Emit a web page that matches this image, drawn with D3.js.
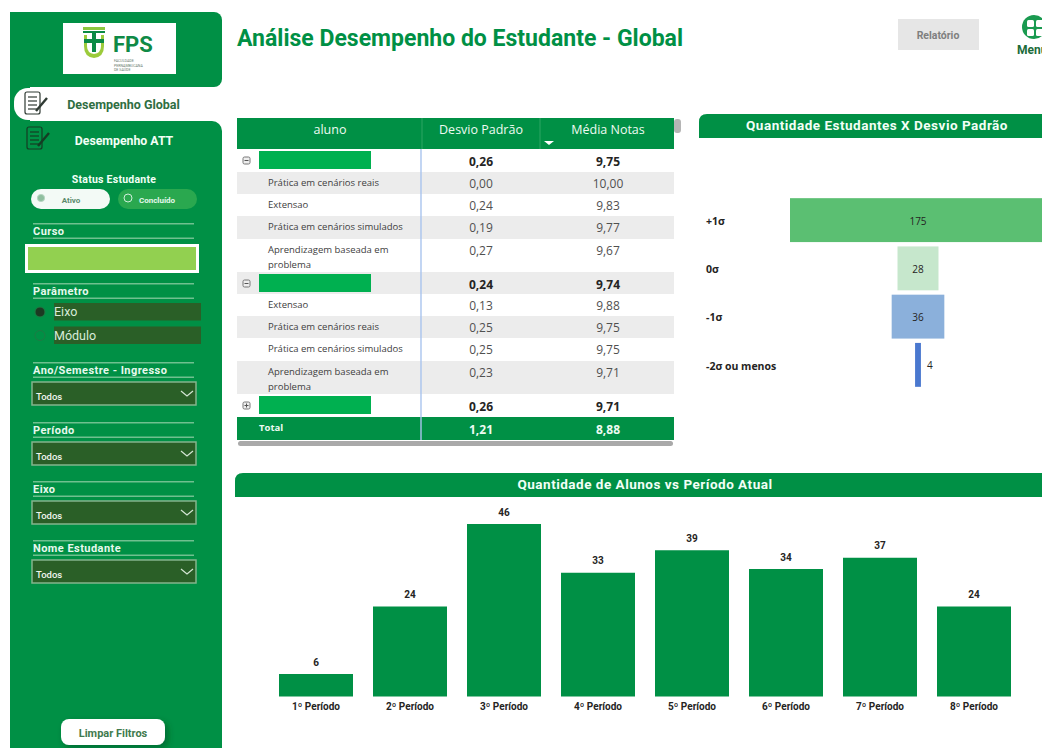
<!DOCTYPE html>
<html>
<head>
<meta charset="utf-8">
<script src="https://cdn.jsdelivr.net/npm/d3@7"></script>
<style>
  html, body { margin: 0; padding: 0; background: #fff; overflow: hidden; }
  svg { display: block; }
</style>
</head>
<body>
<script>
// constants
const WIDTH = 1042;
const HEIGHT = 748;
const GREEN = "#009045";
const DARK = "#2a5f27";
const LINE = "#6fc08f";
const DIN = "Roboto, 'Noto Sans', sans-serif";
const UI = "'Open Sans', 'Noto Sans', sans-serif";

// period bars
const periodos = ["1º Período", "2º Período", "3º Período", "4º Período", "5º Período", "6º Período", "7º Período", "8º Período"];
const alunos = [6, 24, 46, 33, 39, 34, 37, 24];

// funnel
const sigmaLabels = ["+1σ", "0σ", "-1σ", "-2σ ou menos"];
const sigmaValues = [175, 28, 36, 4];
const sigmaColors = ["#5bbf72", "#c6e7cc", "#8bb0db", "#4a78cf"];

// table
const tableHeaders = ["aluno", "Desvio Padrão", "Média Notas"];
const rowLabels = [null, "Prática em cenários reais", "Extensao", "Prática em cenários simulados", "Aprendizagem baseada em|problema",
                   null, "Extensao", "Prática em cenários reais", "Prática em cenários simulados", "Aprendizagem baseada em|problema",
                   null];
const rowDesvio = ["0,26", "0,00", "0,24", "0,19", "0,27", "0,24", "0,13", "0,25", "0,25", "0,23", "0,26"];
const rowMedia = ["9,75", "10,00", "9,83", "9,77", "9,67", "9,74", "9,88", "9,75", "9,75", "9,71", "9,71"];
const rowShaded = [false, true, false, true, false, true, false, true, false, true, false];
const rowExpanded = [true, false, false, false, false, true, false, false, false, false, false];
const totalRow = ["Total", "1,21", "8,88"];
const rowEdges = [149, 172, 194, 216, 239, 272, 294, 316, 338, 361, 394, 417];

// sidebar dropdowns
const slicerTitles = ["Ano/Semestre - Ingresso", "Período", "Eixo", "Nome Estudante"];
const slicerTops = [362, 422, 481, 540];
const paramOptions = ["Eixo", "Módulo"];

var svg = d3.select("body").append("svg")
    .attr("width", WIDTH)
    .attr("height", HEIGHT);

function txt(parent, x, y, s, size, fill, weight, anchor, family) {
    return parent.append("text")
        .attr("x", x)
        .attr("y", y)
        .attr("dy", "0.35em")
        .attr("text-anchor", anchor || "start")
        .attr("font-family", family || DIN)
        .attr("font-size", size + "px")
        .attr("font-weight", weight || 400)
        .attr("fill", fill)
        .text(s);
}

function box(parent, x, y, w, h, fill, r) {
    return parent.append("rect")
        .attr("x", x)
        .attr("y", y)
        .attr("width", w)
        .attr("height", h)
        .attr("rx", r || 0)
        .attr("fill", fill);
}

var defs = svg.append("defs");
var shadow = defs.append("filter").attr("id", "soft").attr("x", "-20%").attr("y", "-30%").attr("width", "150%").attr("height", "170%");
shadow.append("feDropShadow").attr("dx", 3).attr("dy", 3).attr("stdDeviation", 3).attr("flood-color", "#00401e").attr("flood-opacity", 0.45);

// sidebar background
var side = svg.append("g");
box(side, 10, 12, 212, 75, GREEN, 8);
box(side, 10, 121, 212, 640, GREEN, 10);
box(side, 10, 12, 20, 736, GREEN);
box(side, 14, 88, 226, 32, "#fff", 14);

// logo
box(side, 63, 23, 113, 51, "#fff");
box(side, 83, 27, 22, 3, "#8cc63f");
box(side, 83, 31, 22, 2, "#0b8a45");
side.append("path")
    .attr("d", "M84 35H104V46Q104 57 94 58Q84 57 84 46Z")
    .attr("fill", "#9ccb3b");
side.append("path")
    .attr("d", "M87 35H101V46Q101 53 94 54Q87 53 87 46Z")
    .attr("fill", "#fff");
box(side, 92, 33, 4, 19, "#0b8a45");
box(side, 84, 39, 20, 4, "#0b8a45");
txt(side, 113, 44, "FPS", 22, "#0f8a46", 700);
["FACULDADE", "PERNAMBUCANA", "DE SAÚDE"].forEach(function (s, i) {
    txt(side, 114, 61 + i * 4.4, s, 3.6, "#6b7d70", 400);
});

// tab icons
function docIcon(x, y, stroke) {
    var g = side.append("g").attr("fill", "none").attr("stroke", stroke).attr("stroke-width", 1.2);
    g.append("rect").attr("x", x).attr("y", y).attr("width", 15).attr("height", 22).attr("rx", 2);
    [5, 9, 13, 17].forEach(function (d) {
        g.append("line").attr("x1", x + 3).attr("x2", x + 12).attr("y1", y + d).attr("y2", y + d);
    });
    g.append("line").attr("x1", x + 11).attr("y1", y + 19).attr("x2", x + 22).attr("y2", y + 6).attr("stroke-width", 2.4);
}
docIcon(25, 92, "#2f3a33");
docIcon(27, 127, "#143d24");

txt(side, 123.5, 105, "Desempenho Global", 12.5, "#2f6e42", 700, "middle");
txt(side, 124, 141, "Desempenho ATT", 12.3, "#f2fff6", 700, "middle");

// status toggle
txt(side, 114, 179, "Status Estudante", 10.5, "#f2fff6", 700, "middle").attr("letter-spacing", "0.25px");
box(side, 31, 189, 79, 20, "#f3faf6", 10);
box(side, 118, 189, 79, 20, "#2aa84f", 10);
side.append("circle").attr("cx", 41).attr("cy", 198).attr("r", 3.6).attr("fill", "#8fbf9f").attr("stroke", "#b7d6c2");
side.append("circle").attr("cx", 128).attr("cy", 198).attr("r", 4).attr("fill", "none").attr("stroke", "#cfeeda");
txt(side, 71, 200, "Ativo", 8, "#5c8a6c", 700, "middle");
txt(side, 157, 200, "Concluído", 8, "#e6f8ec", 700, "middle");

function slicerTitle(y, s) {
    box(side, 33, y, 161, 1.5, LINE);
    box(side, 33, y + 14.5, 161, 1.5, LINE);
    txt(side, 33, y + 8, s, 11, "#e8f8ee", 700).attr("letter-spacing", "0.45px");
}

// curso
slicerTitle(223, "Curso");
box(side, 25, 244, 174, 29, "#fff");
box(side, 28, 247, 168, 23, "#92d050");

// parametro
slicerTitle(283, "Parâmetro");
paramOptions.forEach(function (s, i) {
    var y = 303 + i * 23.5;
    box(side, 54, y, 147, 17.5, DARK);
    txt(side, 54, y + 9, s, 12.5, "#d8ecd9", 400);
    side.append("circle").attr("cx", 40).attr("cy", y + 9).attr("r", 5)
        .attr("fill", i === 0 ? "#1c3a22" : "none")
        .attr("stroke", "#1f7a44");
});

// dropdowns
slicerTitles.forEach(function (s, i) {
    var y = slicerTops[i];
    slicerTitle(y, s);
    box(side, 32, y + 20, 164, 23, DARK).attr("stroke", "#84b48d").attr("stroke-width", 1.5);
    txt(side, 36, y + 35, "Todos", 9.5, "#f0f6ee", 500);
    side.append("path")
        .attr("d", "M181 " + (y + 29) + "l6 5l6 -5")
        .attr("fill", "none")
        .attr("stroke", "#d4e6d4")
        .attr("stroke-width", 1.2);
});

// clear button
box(side, 61, 719, 104, 26, "#fff", 8).attr("filter", "url(#soft)");
txt(side, 113, 733, "Limpar Filtros", 11, "#3f7a4e", 700, "middle");

// page header
txt(svg, 237, 38, "Análise Desempenho do Estudante - Global", 23, GREEN, 700)
    .attr("textLength", 446).attr("lengthAdjust", "spacingAndGlyphs");
box(svg, 898, 19, 81, 31, "#e6e6e6");
txt(svg, 938, 35, "Relatório", 10.5, "#7f7f7f", 700, "middle");
svg.append("circle").attr("cx", 1034).attr("cy", 27).attr("r", 12).attr("fill", "#1a9a50");
[[1027, 20], [1036, 20], [1027, 29], [1036, 29]].forEach(function (p) {
    box(svg, p[0], p[1], 7, 7, "#fff", 1.5);
});
txt(svg, 1017, 50, "Menu", 12, "#1b6b3a", 700);

// table
var table = svg.append("g");
var colCenter = [330, 481, 608];
box(table, 237, 118, 437, 31, GREEN);
tableHeaders.forEach(function (s, i) {
    txt(table, colCenter[i], 130, s, 12.5, "#eefbf2", 400, "middle", UI);
});
[422, 540].forEach(function (x) {
    table.append("line").attr("x1", x).attr("x2", x).attr("y1", 118).attr("y2", 149).attr("stroke", "#2ca565");
});
table.append("path").attr("d", "M544 141h10l-5 4z").attr("fill", "#fff");
box(table, 674, 119, 7, 14, "#b5b5b5", 3);

rowLabels.forEach(function (label, i) {
    var top = rowEdges[i], h = rowEdges[i + 1] - top;
    var isGroup = label === null;
    if (rowShaded[i]) box(table, 237, top, 437, h, "#ececec");
    if (isGroup) {
        box(table, 259, top + 2, 112, 18, "#00b050");
        table.append("rect").attr("x", 243).attr("y", top + 8).attr("width", 7).attr("height", 7).attr("rx", 1.5)
            .attr("fill", "#eee").attr("stroke", "#777");
        table.append("line").attr("x1", 244.5).attr("x2", 248.5).attr("y1", top + 11.5).attr("y2", top + 11.5).attr("stroke", "#555");
        if (!rowExpanded[i]) {
            table.append("line").attr("x1", 246.5).attr("x2", 246.5).attr("y1", top + 9.5).attr("y2", top + 13.5).attr("stroke", "#555");
        }
    } else {
        label.split("|").forEach(function (s, k) {
            txt(table, 268, top + 11 + k * 15, s, 9.5, "#404040", 400, "start", UI);
        });
    }
    var cy = top + (isGroup ? 12.5 : 12);
    txt(table, 481, cy, rowDesvio[i], 12, isGroup ? "#252423" : "#505050", isGroup ? 700 : 400, "middle", UI);
    txt(table, 608, cy, rowMedia[i], 12, isGroup ? "#252423" : "#505050", isGroup ? 700 : 400, "middle", UI);
});

box(table, 237, 417, 437, 23, GREEN);
txt(table, 259, 428, totalRow[0], 9.5, "#eefbf2", 700, "start", UI);
txt(table, 481, 430, totalRow[1], 12, "#eefbf2", 700, "middle", UI);
txt(table, 608, 430, totalRow[2], 12, "#eefbf2", 700, "middle", UI);
table.append("line").attr("x1", 421).attr("x2", 421).attr("y1", 149).attr("y2", 440).attr("stroke", "#a9c4ee").attr("stroke-width", 1.4);
box(table, 238, 441, 435, 5, "#a9a9a9", 2.5);

// section headers
function sectionHeader(x, y, s, cx) {
    svg.append("path")
        .attr("d", "M" + x + " " + (y + 24) + "V" + (y + 8) + "Q" + x + " " + y + " " + (x + 8) + " " + y + "H" + WIDTH + "V" + (y + 24) + "Z")
        .attr("fill", GREEN);
    txt(svg, cx, y + 11.5, s, 13.5, "#f2fff6", 700, "middle").attr("letter-spacing", "0.5px");
}
sectionHeader(699, 114, "Quantidade Estudantes X Desvio Padrão", 877);
sectionHeader(235, 473, "Quantidade de Alunos vs Período Atual", 645);

// funnel chart
var funnelX = d3.scaleLinear().domain([0, 175]).range([0, 256]);
var funnelY = d3.scaleBand().domain(sigmaLabels).range([196, 389]).paddingInner(0.09).paddingOuter(0.045);
var FUNNEL_CENTER = 918;
var funnel = svg.append("g");

funnel.selectAll("rect")
    .data(sigmaValues)
    .enter()
    .append("rect")
    .attr("x", function (d) { return FUNNEL_CENTER - funnelX(d) / 2; })
    .attr("y", function (d, i) { return funnelY(sigmaLabels[i]); })
    .attr("width", function (d) { return funnelX(d); })
    .attr("height", funnelY.bandwidth())
    .attr("fill", function (d, i) { return sigmaColors[i]; });

sigmaValues.forEach(function (d, i) {
    var cy = funnelY(sigmaLabels[i]) + funnelY.bandwidth() / 2 + 1;
    txt(funnel, 706, cy, sigmaLabels[i], 10.5, "#252423", 700, "start", UI);
    // last bar is too thin to hold its label
    var lx = funnelX(d) < 20 ? FUNNEL_CENTER + funnelX(d) / 2 + 9 : FUNNEL_CENTER;
    txt(funnel, lx, cy, d, 10, "#252423", 400, "middle", UI);
});

// period bar chart
var barX = d3.scaleBand().domain(periodos).range([269, 1021]).paddingInner(0.2128).paddingOuter(0.1064);
var barY = d3.scaleLinear().domain([0, 46]).range([696.5, 524]);
var bars = svg.append("g");

bars.selectAll("rect")
    .data(alunos)
    .enter()
    .append("rect")
    .attr("x", function (d, i) { return barX(periodos[i]); })
    .attr("y", function (d) { return barY(d); })
    .attr("width", barX.bandwidth())
    .attr("height", function (d) { return barY(0) - barY(d); })
    .attr("fill", GREEN);

bars.selectAll(".bar_label")
    .data(alunos)
    .enter()
    .append("text")
    .attr("class", "bar_label")
    .attr("x", function (d, i) { return barX(periodos[i]) + barX.bandwidth() / 2; })
    .attr("y", function (d) { return barY(d) - 12; })
    .attr("dy", "0.35em")
    .attr("text-anchor", "middle")
    .attr("font-family", DIN)
    .attr("font-size", "10px")
    .attr("font-weight", 700)
    .attr("fill", "#252423")
    .text(function (d) { return d; });

var xAxis = d3.axisBottom(barX).tickSize(0).tickPadding(6);
var xG = svg.append("g")
    .attr("transform", "translate(0,696.5)")
    .call(xAxis);
xG.select(".domain").remove();
xG.selectAll("text")
    .attr("font-family", DIN)
    .attr("font-size", "10px")
    .attr("font-weight", 700)
    .attr("fill", "#252423");
</script>
</body>
</html>
